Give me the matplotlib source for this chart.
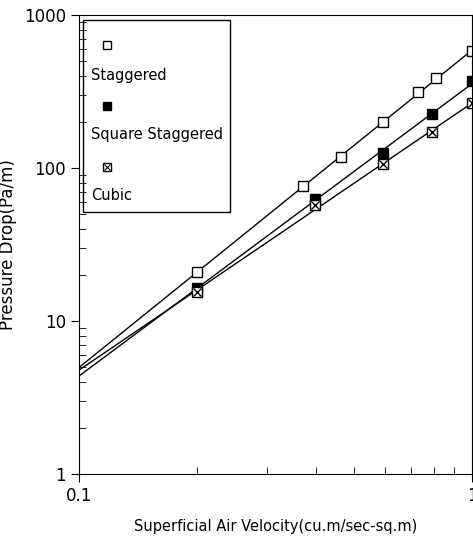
import numpy as np
import matplotlib.pyplot as plt
from matplotlib.patches import Rectangle

# superficial air velocity (cu.m/sec-sq.m) and pressure drop (Pa/m)
stag_v = [0.2, 0.372, 0.464, 0.594, 0.728, 0.81, 1.0]
stag_dp = [21, 76, 118, 200, 312, 385, 580]
sq_v = [0.2, 0.398, 0.594, 0.791, 1.0]
sq_dp = [16.5, 63, 125, 225, 368]
cub_v = [0.2, 0.398, 0.594, 0.791, 1.0]
cub_dp = [15.5, 57, 107, 172, 265]

labels = ['Staggered', 'Square Staggered', 'Cubic']

fig = plt.figure(figsize=(4.73, 5.37), dpi=100)
ax = fig.add_axes([0.167, 0.117, 0.831, 0.855])

xfit = np.array([0.1, 1.0])
for v, dp in [(stag_v, stag_dp), (sq_v, sq_dp), (cub_v, cub_dp)]:
    b, a = np.polyfit(np.log10(v), np.log10(dp), 1)
    ax.plot(xfit, 10 ** (a + b * np.log10(xfit)), color='black', lw=1)

ax.plot(stag_v, stag_dp, 's', ms=6.5, mfc='white', mec='black', mew=1)
ax.plot(sq_v, sq_dp, 's', ms=6.5, mfc='black', mec='black', mew=1)
ax.plot(cub_v, cub_dp, 's', ms=6.5, mfc='white', mec='black', mew=1)
ax.plot(cub_v, cub_dp, 'x', ms=5.5, color='black', mew=1)

ax.set_xscale('log')
ax.set_yscale('log')
ax.set_xlim(0.1, 1)
ax.set_ylim(1, 1000)
ax.set_xticks([0.1, 1])
ax.set_xticklabels(['0.1', '1'])
ax.set_yticks([1, 10, 100, 1000])
ax.set_yticklabels(['1', '10', '100', '1000'])
ax.tick_params(which='major', direction='out', length=6, labelsize=12, top=False, right=False)
ax.tick_params(which='minor', direction='in', length=5, top=False, right=False)
ax.tick_params(axis='x', which='minor', labelbottom=False)

ax.set_xlabel('Superficial Air Velocity(cu.m/sec-sq.m)', fontsize=10.5, labelpad=10)
ax.set_ylabel('Pressure Drop(Pa/m)', fontsize=12)
ax.yaxis.set_label_coords(-0.158, 0.5)

# legend: marker above each label, drawn in a box
ax.add_patch(Rectangle((0.01, 0.571), 0.374, 0.418, transform=ax.transAxes,
                       fill=False, lw=1, color='black', zorder=5))
rows = [(0.935, 0.869), (0.802, 0.739), (0.669, 0.608)]
styles = [dict(mfc='white'), dict(mfc='black'), dict(mfc='white')]
for (my, ty), lab, st in zip(rows, labels, styles):
    ax.plot([0.071], [my], 's', ms=6, mec='black', mew=1, transform=ax.transAxes, **st)
    ax.text(0.031, ty, lab, transform=ax.transAxes, fontsize=10.5, va='center')
ax.plot([0.071], [rows[2][0]], 'x', ms=5, color='black', mew=0.8, transform=ax.transAxes)

fig.savefig('out.png', dpi=100)
